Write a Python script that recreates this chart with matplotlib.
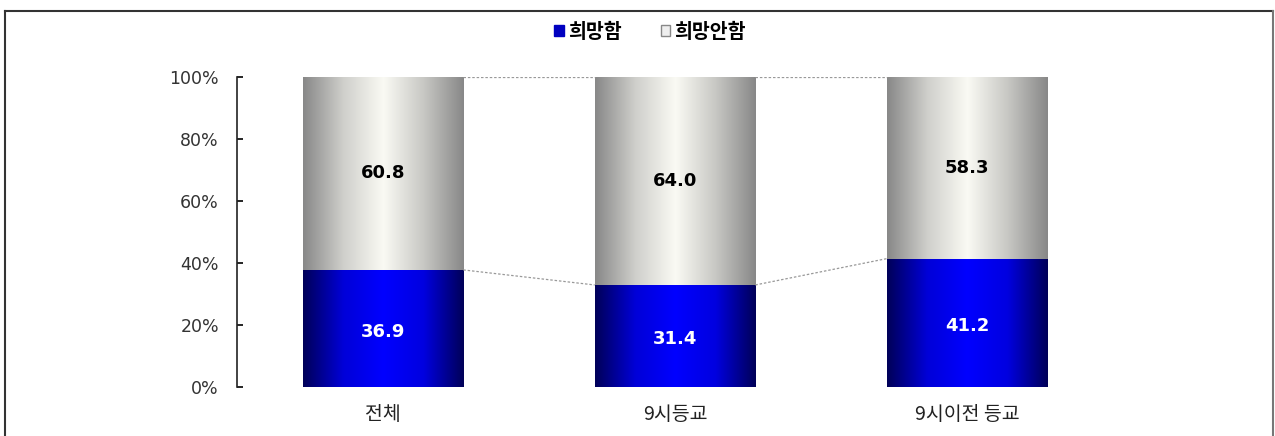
import numpy as np
import matplotlib.pyplot as plt
from matplotlib.patches import Patch
from matplotlib.lines import Line2D
from matplotlib.colors import LinearSegmentedColormap

plt.rcParams['font.family'] = ['Noto Sans CJK KR', 'DejaVu Sans']

categories = ["전체", "9시등교", "9시이전 등교"]
hope = [36.9, 31.4, 41.2]
no_hope = [60.8, 64.0, 58.3]
series_names = ["희망함", "희망안함"]

# 100% stacked shares
totals = [a + b for a, b in zip(hope, no_hope)]
hope_pct = [a / t * 100 for a, t in zip(hope, totals)]
no_hope_pct = [b / t * 100 for b, t in zip(no_hope, totals)]

blue_cmap = LinearSegmentedColormap.from_list(
    "blue", ["#000058", "#0000d8", "#0000ff", "#0000e0", "#000058"])
gray_cmap = LinearSegmentedColormap.from_list(
    "gray", ["#888888", "#cfcfcb", "#fafaf4", "#c8c8c4", "#888888"])

fig = plt.figure(figsize=(12.75, 4.36), dpi=100)
ax = fig.add_axes([237 / 1275, 1 - 387 / 436, (1113 - 237) / 1275, 310 / 436])

x = np.arange(len(categories))
width = 0.55
grad = np.linspace(0, 1, 256).reshape(1, -1)


def gradient_bar(xc, bottom, height, cmap):
    bar = ax.bar(xc, height, width, bottom=bottom, color="none", edgecolor="none")[0]
    im = ax.imshow(grad, cmap=cmap, aspect="auto",
                   extent=(xc - width / 2, xc + width / 2, bottom, bottom + height),
                   zorder=1)
    im.set_clip_path(bar)


num_font = ['DejaVu Sans', 'Noto Sans CJK KR']
for i in range(len(categories)):
    gradient_bar(x[i], 0, hope_pct[i], blue_cmap)
    gradient_bar(x[i], hope_pct[i], no_hope_pct[i], gray_cmap)
    ax.text(x[i], hope_pct[i] / 2 - 1, f"{hope[i]:.1f}", ha="center", va="center",
            color="white", fontsize=13, fontweight="bold", family=num_font)
    ax.text(x[i], hope_pct[i] + no_hope_pct[i] / 2, f"{no_hope[i]:.1f}",
            ha="center", va="center", color="black", fontsize=13, fontweight="bold",
            family=num_font)

# series connector lines
for i in range(len(categories) - 1):
    ax.plot([x[i] + width / 2, x[i + 1] - width / 2], [hope_pct[i], hope_pct[i + 1]],
            color="#999999", lw=0.9, ls=(0, (2, 1.5)), zorder=2)
    ax.plot([x[i] + width / 2, x[i + 1] - width / 2], [100, 100],
            color="#999999", lw=0.9, ls=(0, (2, 1.5)), zorder=2)

ax.set_xlim(-0.5, 2.5)
ax.set_ylim(0, 100)
ax.set_yticks(range(0, 101, 20))
ax.set_yticklabels([f"{v}%" for v in range(0, 101, 20)], fontsize=12.5,
                   color="#333333", family=num_font)
ax.set_xticks(x)
ax.set_xticklabels(categories, fontsize=14, color="#222222")
ax.tick_params(axis="y", direction="in", length=4, width=1.2, pad=13)
ax.tick_params(axis="x", length=0, pad=12)
for side in ["top", "right", "bottom"]:
    ax.spines[side].set_visible(False)
ax.spines["left"].set_linewidth(1.2)
ax.spines["left"].set_color("#222222")

handles = [Patch(facecolor="#0000c0", edgecolor="#0000c0"),
           Patch(facecolor="#eeeeee", edgecolor="#888888")]
fig.legend(handles, series_names, loc="center", bbox_to_anchor=(650 / 1275, 1 - 32 / 436),
           ncol=2, frameon=False, handlelength=0.5, handleheight=0.5, handletextpad=0.2,
           columnspacing=2.0, prop={"weight": "bold", "size": 14})

# outer frame
fig.add_artist(Line2D([5 / 1275, 5 / 1275], [0, 1 - 11 / 436], color="#333333", lw=1.5))
fig.add_artist(Line2D([5 / 1275, 1273 / 1275], [1 - 11 / 436, 1 - 11 / 436], color="#333333", lw=1.5))
fig.add_artist(Line2D([1273 / 1275, 1273 / 1275], [0, 1 - 11 / 436], color="#777777", lw=1.5))

fig.savefig("out.png", dpi=100)
